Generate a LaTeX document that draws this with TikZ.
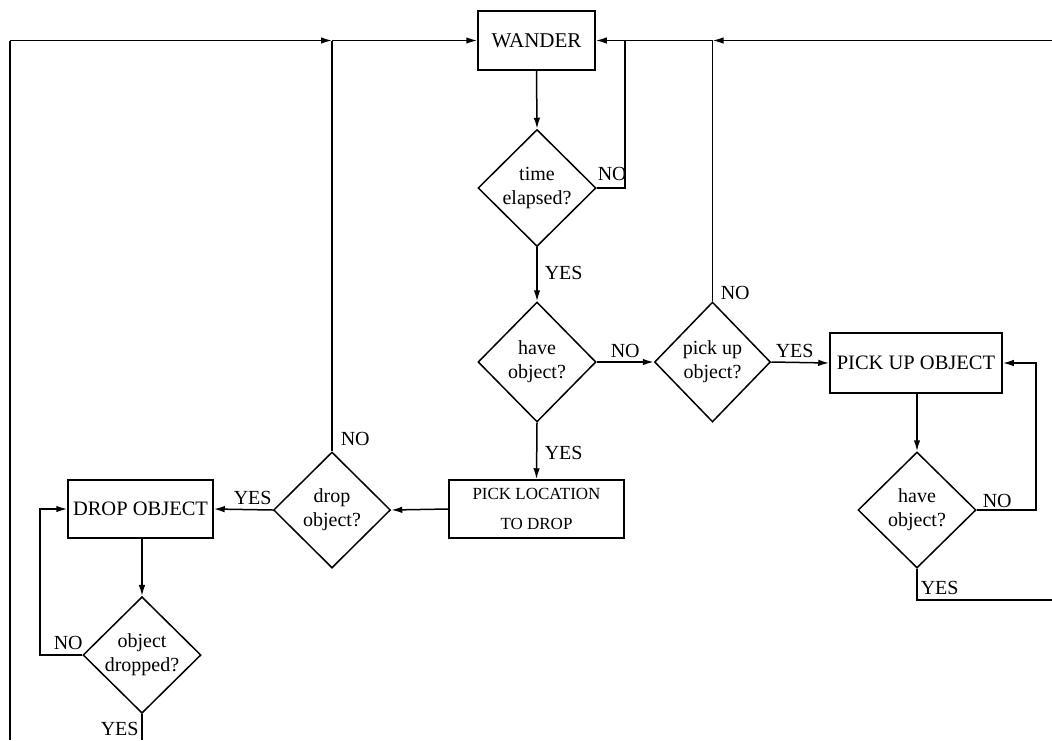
\documentclass[tikz,border=0pt]{standalone}
\usepackage{fontspec}
\setmainfont{Liberation Serif}
\usetikzlibrary{shapes.geometric,arrows.meta}
\begin{document}
\begin{tikzpicture}[x=1pt,y=-1pt,
  line width=1.5pt,
  every node/.style={font=\fontsize{20}{24}\selectfont},
  box/.style={draw,rectangle,inner sep=0pt,align=center,font=\fontsize{20.5}{24}\selectfont},
  dia/.style={draw,diamond,inner sep=0pt,align=center,minimum width=118pt,minimum height=117pt},
  lab/.style={inner sep=0pt},
  arr/.style={-{Latex[length=11pt,width=6.5pt]}}]
\useasboundingbox (0,0) rectangle (1052,740);
% nodes
\node[box,minimum width=117pt,minimum height=59pt,font=\fontsize{21}{24}\selectfont] (wander) at (536.5,40.5) {WANDER};
\node[dia] (time) at (537,188) {time\\elapsed?};
\node[dia,minimum height=120pt] (have1) at (537,362) {have\\object?};
\node[dia,minimum width=116pt,minimum height=120pt] (pick) at (712.5,362) {pick up\\object?};
\node[box,minimum width=172pt,minimum height=60pt] (pickobj) at (916,363) {PICK UP OBJECT};
\node[dia,minimum width=118pt,minimum height=116pt] (have2) at (917,510) {have\\object?};
\node[box,minimum width=175pt,minimum height=58pt,font=\fontsize{17}{30}\selectfont] (loc) at (536.5,509) {PICK LOCATION\\TO DROP};
\node[dia,minimum width=117pt,minimum height=116pt] (drop) at (332,510) {drop\\object?};
\node[box,minimum width=145pt,minimum height=58pt] (dropobj) at (140.5,509) {DROP OBJECT};
\node[dia,minimum width=118pt,minimum height=116pt] (dropped) at (142,655) {object\\dropped?};
% coordinates
\coordinate (tl) at (10,40.5);
\coordinate (bl) at (10,740);
\coordinate (j332) at (332,40.5);
\coordinate (j625) at (625,40.5);
\coordinate (j713) at (712.5,40.5);
\coordinate (tr) at (1052,40.5);
\coordinate (br) at (1052,600);
\coordinate (rl) at (1036,510);
\coordinate (ll) at (40,655);
\coordinate (db) at (142,740);
% connectors
\draw (bl) -- (tl);
\draw[arr] (tl) -- (j332);
\draw[arr] (j332) -- (wander.west);
\draw[arr] (tr) -- (j713);
\draw[arr] (j713) -- (wander.east);
\draw[arr] (wander.south) -- (time.north);
\draw (time.east) -| (j625);
\draw[arr] (time.south) -- (have1.north);
\draw[arr] (have1.east) -- (pick.west);
\draw[arr] (pick.east) -- (pickobj.west);
\draw (pick.north) -- (j713);
\draw[arr] (pickobj.south -| have2.north) -- (have2.north);
\draw[arr] (have2.east) -- (rl) |- (pickobj.east);
\draw (have2.south) |- (br);
\draw[arr] (have1.south) -- (loc.north);
\draw[arr] (loc.west) -- (drop.east);
\draw[arr] (drop.west) -- (dropobj.east);
\draw (drop.north) -- (j332);
\draw[arr] (dropobj.south -| dropped.north) -- (dropped.north);
\draw[arr] (dropped.west) -- (ll) |- (dropobj.west);
\draw (dropped.south) -- (db);
% labels
\node[lab,anchor=base west] (l1) at (597,180) {NO};
\node[lab,anchor=base west] (l2) at (544,279) {YES};
\node[lab,anchor=base west] (l3) at (610,357) {NO};
\node[lab,anchor=base west] (l4) at (775,357) {YES};
\node[lab,anchor=base west] (l5) at (720,299) {NO};
\node[lab,anchor=base west] (l6) at (544,459) {YES};
\node[lab,anchor=base west] (l7) at (982,507) {NO};
\node[lab,anchor=base west] (l8) at (920,594) {YES};
\node[lab,anchor=base west] (l9) at (340,445) {NO};
\node[lab,anchor=base west] (l10) at (233,504) {YES};
\node[lab,anchor=base west] (l11) at (53,649) {NO};
\node[lab,anchor=base west] (l12) at (100,735) {YES};
\end{tikzpicture}
\end{document}
